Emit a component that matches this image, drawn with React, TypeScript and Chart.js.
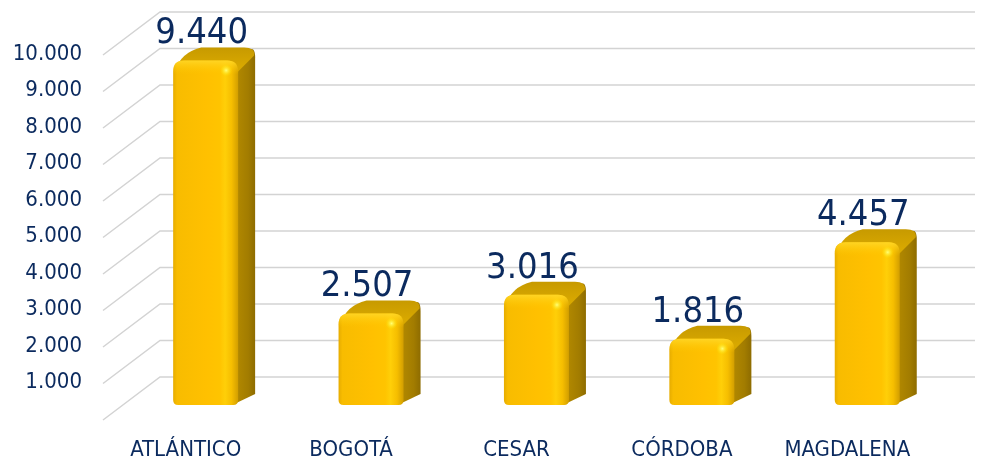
import React, { useEffect, useRef } from "react";
import { Chart, registerables } from "chart.js";

Chart.register(...registerables);

const categories = ["ATLÁNTICO", "BOGOTÁ", "CESAR", "CÓRDOBA", "MAGDALENA"];
const values = [9440, 2507, 3016, 1816, 4457];
const valueLabels = ["9.440", "2.507", "3.016", "1.816", "4.457"];
const yTickLabels = ["", "1.000", "2.000", "3.000", "4.000", "5.000", "6.000", "7.000", "8.000", "9.000", "10.000"];

const NAVY = "#0B2A5E";
const GRID = "#D3D3D3";
const FONT = "'DejaVu Sans Condensed', 'DejaVu Sans', sans-serif";

// perspective depth of the wall and the bars
const WALL_DX = 57;
const WALL_DY = -43;
const BAR_OFF = 0.35;
const BAR_DX = 17;
const BAR_DY = -13;

function roundedTopRect(ctx: CanvasRenderingContext2D, x0: number, y0: number, x1: number, y1: number, r: number, rb: number) {
  ctx.beginPath();
  ctx.moveTo(x0, y1 - rb);
  ctx.lineTo(x0, y0 + r);
  ctx.quadraticCurveTo(x0, y0, x0 + r, y0);
  ctx.lineTo(x1 - r, y0);
  ctx.quadraticCurveTo(x1, y0, x1, y0 + r);
  ctx.lineTo(x1, y1 - rb);
  ctx.quadraticCurveTo(x1, y1, x1 - rb, y1);
  ctx.lineTo(x0 + rb, y1);
  ctx.quadraticCurveTo(x0, y1, x0, y1 - rb);
  ctx.closePath();
}

const perspectivePlugin = {
  id: "perspective3d",
  beforeDatasetsDraw(chart: any) {
    const { ctx, chartArea, scales } = chart;
    const y = scales.y;
    ctx.save();
    ctx.strokeStyle = GRID;
    ctx.lineWidth = 1.5;
    y.ticks.forEach((t: any, i: number) => {
      const py = y.getPixelForValue(t.value);
      ctx.beginPath();
      ctx.moveTo(chartArea.left, py);
      ctx.lineTo(chartArea.left + WALL_DX, py + WALL_DY);
      ctx.lineTo(chart.width - 8, py + WALL_DY);
      ctx.stroke();
      const lbl = yTickLabels[i] ?? "";
      if (lbl) {
        ctx.fillStyle = NAVY;
        ctx.font = `22px ${FONT}`;
        ctx.textAlign = "right";
        ctx.textBaseline = "middle";
        ctx.fillText(lbl, chartArea.left - 21, py - 1);
      }
    });
    // category labels
    const x = scales.x;
    ctx.fillStyle = NAVY;
    ctx.font = `22px ${FONT}`;
    ctx.textAlign = "center";
    ctx.textBaseline = "middle";
    categories.forEach((c, i) => {
      ctx.fillText(c, x.getPixelForValue(i), chartArea.bottom + 30);
    });
    ctx.restore();
  },
  afterDatasetsDraw(chart: any) {
    const { ctx } = chart;
    const meta = chart.getDatasetMeta(0);
    ctx.save();
    meta.data.forEach((el: any, i: number) => {
      const w = el.width;
      const ox = WALL_DX * BAR_OFF;
      const oy = WALL_DY * BAR_OFF;
      const x0 = el.x - w / 2 + ox;
      const x1 = x0 + w;
      const yT = el.y + oy;
      const yB = el.base + oy;
      const r = 11;
      // side face
      ctx.beginPath();
      ctx.moveTo(x1 - 4, yT + 2);
      ctx.quadraticCurveTo(x1 + BAR_DX - 6, yT + BAR_DY - 1, x1 + BAR_DX - 2, yT + BAR_DY + 2);
      ctx.quadraticCurveTo(x1 + BAR_DX, yT + BAR_DY + 4, x1 + BAR_DX, yT + BAR_DY + 10);
      ctx.lineTo(x1 + BAR_DX, yB + BAR_DY + 2);
      ctx.lineTo(x1 - 6, yB);
      ctx.closePath();
      const sg = ctx.createLinearGradient(x1, 0, x1 + BAR_DX, 0);
      sg.addColorStop(0, "#B08700");
      sg.addColorStop(0.6, "#A27C00");
      sg.addColorStop(1, "#8E6C00");
      ctx.fillStyle = sg;
      ctx.fill();
      // top face
      ctx.beginPath();
      ctx.moveTo(x0 + 2, yT + r);
      ctx.quadraticCurveTo(x0 + BAR_DX * 0.4, yT + BAR_DY * 0.6, x0 + BAR_DX + r, yT + BAR_DY);
      ctx.lineTo(x1 + BAR_DX - r, yT + BAR_DY);
      ctx.quadraticCurveTo(x1 + BAR_DX, yT + BAR_DY, x1 + BAR_DX - 1, yT + BAR_DY + 8);
      ctx.lineTo(x1, yT + r);
      ctx.closePath();
      const tg = ctx.createLinearGradient(0, yT + BAR_DY, 0, yT + 6);
      tg.addColorStop(0, "#C79A00");
      tg.addColorStop(1, "#D8A800");
      ctx.fillStyle = tg;
      ctx.fill();
      // front face
      roundedTopRect(ctx, x0, yT, x1, yB, r, 5);
      const fg = ctx.createLinearGradient(x0, 0, x1, 0);
      fg.addColorStop(0, "#E6AC00");
      fg.addColorStop(0.06, "#F8BC00");
      fg.addColorStop(0.5, "#FFC000");
      fg.addColorStop(0.72, "#FFC400");
      fg.addColorStop(0.8, "#FFCF08");
      fg.addColorStop(0.9, "#F6BE00");
      fg.addColorStop(1, "#D29E00");
      ctx.fillStyle = fg;
      ctx.fill();
      // top highlight of the front face
      const hg = ctx.createLinearGradient(0, yT, 0, yT + 14);
      hg.addColorStop(0, "rgba(255,215,40,0.9)");
      hg.addColorStop(1, "rgba(255,200,0,0)");
      roundedTopRect(ctx, x0, yT, x1, yT + 14, r, 0);
      ctx.fillStyle = hg;
      ctx.fill();
      // specular spot
      const sx = x1 - 12;
      const sy = yT + 10;
      const rg = ctx.createRadialGradient(sx, sy, 0, sx, sy, 6);
      rg.addColorStop(0, "rgba(255,255,120,1)");
      rg.addColorStop(1, "rgba(255,230,0,0)");
      ctx.fillStyle = rg;
      ctx.beginPath();
      ctx.arc(sx, sy, 6, 0, Math.PI * 2);
      ctx.fill();
      // value label
      ctx.fillStyle = NAVY;
      ctx.font = `36px ${FONT}`;
      ctx.textAlign = "center";
      ctx.textBaseline = "alphabetic";
      ctx.fillText(valueLabels[i], x0 + w / 2 - 4, yT + BAR_DY - 4);
    });
    ctx.restore();
  },
};

export default function App() {
  const ref = useRef<HTMLCanvasElement | null>(null);
  useEffect(() => {
    document.body.style.margin = "0";
    const canvas = ref.current;
    if (!canvas) return;
    const chart = new Chart(canvas, {
      type: "bar",
      data: {
        labels: categories,
        datasets: [
          {
            data: values,
            backgroundColor: "rgba(0,0,0,0)",
            borderWidth: 0,
            categoryPercentage: 1,
            barPercentage: 0.393,
          },
        ],
      },
      options: {
        responsive: false,
        animation: false,
        layout: { padding: { left: 103, right: 53, top: 55, bottom: 41 } },
        plugins: { legend: { display: false }, tooltip: { enabled: false } },
        scales: {
          x: { display: false },
          y: { display: false, min: 0, max: 10000, ticks: { stepSize: 1000 } },
        },
      },
      plugins: [perspectivePlugin],
    });
    return () => chart.destroy();
  }, []);
  return (
    <div style={{ width: 983, height: 461, background: "#fff" }}>
      <canvas ref={ref} width={983} height={461} />
    </div>
  );
}
